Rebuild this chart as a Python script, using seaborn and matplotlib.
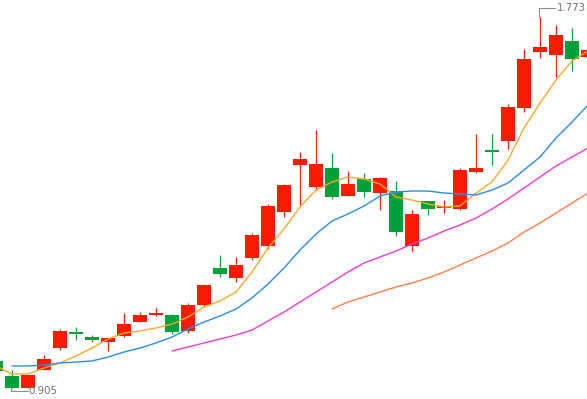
import numpy as np
import pandas as pd
import seaborn as sns
import matplotlib
matplotlib.use("Agg")
import matplotlib.pyplot as plt

# daily candles (chart is scrolled, first candle only half visible)
opens = [0.9682, 0.9331, 0.9060, 0.9471, 0.9986, 1.0360, 1.0243, 1.0126, 1.0267, 1.0594,
         1.0758, 1.0758, 1.0384, 1.0992, 1.1858, 1.1624, 1.2092, 1.2372, 1.3168, 1.4267,
         1.3753, 1.4197, 1.3542, 1.3940, 1.3612, 1.3659, 1.2372, 1.3425, 1.3261, 1.3238,
         1.4104, 1.4618, 1.4829, 1.5601, 1.6911, 1.6841, 1.7168, 1.6794]
highs = [0.9705, 0.9471, 0.9354, 0.9822, 1.0430, 1.0477, 1.0290, 1.0220, 1.0805, 1.0828,
         1.0922, 1.0781, 1.1039, 1.1483, 1.2162, 1.2115, 1.2676, 1.3355, 1.3823, 1.4572,
         1.5086, 1.4548, 1.4127, 1.4080, 1.3987, 1.3893, 1.3214, 1.3425, 1.3448, 1.4197,
         1.4993, 1.4993, 1.5695, 1.6981, 1.7730, 1.7543, 1.7473, 1.7005]
lows = [0.9424, 0.9050, 0.9060, 0.9471, 0.9939, 1.0173, 1.0126, 0.9916, 1.0243, 1.0594,
        1.0735, 1.0313, 1.0337, 1.0945, 1.1647, 1.1530, 1.2045, 1.2302, 1.3051, 1.3332,
        1.3682, 1.3472, 1.3542, 1.3519, 1.3214, 1.2606, 1.2255, 1.3098, 1.3144, 1.3214,
        1.4080, 1.4267, 1.4642, 1.5507, 1.6771, 1.6326, 1.6467, 1.6771]
closes = [0.9448, 0.9050, 0.9354, 0.9729, 1.0384, 1.0313, 1.0173, 1.0220, 1.0547, 1.0758,
          1.0805, 1.0360, 1.0992, 1.1460, 1.1717, 1.1928, 1.2630, 1.3308, 1.3799, 1.4408,
          1.4291, 1.3519, 1.3823, 1.3636, 1.3963, 1.2700, 1.3121, 1.3238, 1.3308, 1.4150,
          1.4197, 1.4572, 1.5624, 1.6747, 1.7028, 1.7309, 1.6747, 1.6958]

# moving averages as shown (they use days left of the visible window)
ma5 = [0.9565, 0.9378, 0.9378, 0.9518, 0.9635, 0.9799, 0.9986, 1.0196, 1.0337, 1.0384,
       1.0454, 1.0547, 1.0711, 1.0945, 1.1086, 1.1296, 1.1764, 1.2326, 1.2770, 1.3285,
       1.3682, 1.3870, 1.3987, 1.3940, 1.3823, 1.3519, 1.3448, 1.3355, 1.3285, 1.3308,
       1.3612, 1.3870, 1.4384, 1.5133, 1.5718, 1.6256, 1.6701, 1.6935]
ma10 = [np.nan, 0.9565, 0.9565, 0.9588, 0.9635, 0.9658, 0.9682, 0.9775, 0.9892, 0.9986,
        1.0103, 1.0243, 1.0430, 1.0594, 1.0735, 1.0898, 1.1156, 1.1483, 1.1858, 1.2279,
        1.2653, 1.2957, 1.3121, 1.3308, 1.3542, 1.3636, 1.3659, 1.3659, 1.3612, 1.3589,
        1.3566, 1.3682, 1.3846, 1.4150, 1.4455, 1.4899, 1.5273, 1.5671]
ma20 = [np.nan] * 11 + [0.9916, 1.0009, 1.0103, 1.0196, 1.0290, 1.0407, 1.0618, 1.0828, 1.1062,
                        1.1296, 1.1530, 1.1764, 1.1975, 1.2115, 1.2255, 1.2419, 1.2559, 1.2723,
                        1.2864, 1.3027, 1.3238, 1.3472, 1.3729, 1.3987, 1.4244, 1.4455, 1.4665]
ma30 = [np.nan] * 21 + [1.0898, 1.1062, 1.1179, 1.1296, 1.1413, 1.1507, 1.1624, 1.1764, 1.1928,
                        1.2092, 1.2255, 1.2442, 1.2700, 1.2910, 1.3144, 1.3378, 1.3612]

UP = "#F91B00"
DOWN = "#00A03A"
ma_colors = {"MA5": "#F7A928", "MA10": "#2A8CEB", "MA20": "#F43BCB", "MA30": "#FF7F45"}


def main():
    sns.set_style("white")
    plt.rcParams['font.family'] = ['DejaVu Sans']

    fig = plt.figure(figsize=(5.87, 3.99), dpi=100)
    ax = fig.add_axes([0, 0, 1, 1])

    n = len(opens)
    x = np.arange(n)
    o = np.array(opens)
    c = np.array(closes)
    colors = [UP if cc >= oo else DOWN for oo, cc in zip(o, c)]

    # wicks then bodies
    ax.vlines(x, lows, highs, colors=colors, linewidth=0.9, zorder=2)
    body = np.where(np.abs(c - o) < 0.0015, 0.0015 * np.sign(c - o + 1e-9), c - o)
    ax.bar(x, body, bottom=o, width=0.875, color=colors, linewidth=0, zorder=3)

    # moving averages
    df = pd.DataFrame({"x": x, "MA5": ma5, "MA10": ma10, "MA20": ma20, "MA30": ma30})
    long = df.melt(id_vars="x", var_name="ma", value_name="v").dropna()
    sns.lineplot(data=long, x="x", y="v", hue="ma", palette=ma_colors,
                 estimator=None, sort=False, linewidth=1.0, legend=False, ax=ax, zorder=4)

    # view window in data units
    ax.set_xlim(0.25, 36.9375)
    ax.set_ylim(0.87927, 1.81277)
    ax.set_axis_off()

    # pixel sizes in data units
    px = 1 / 16
    py = (1.81277 - 0.87927) / 399

    # max / min markers
    gray = "#8a8a8a"
    hi_i = int(np.argmax(highs))
    hi = highs[hi_i]
    ax.plot([hi_i - px * 1.5, hi_i - px * 1.5, hi_i + 15 * px], [hi, hi + 9 * py, hi + 9 * py],
            color=gray, lw=0.8, zorder=5)
    ax.text(hi_i + 16.5 * px, hi + 9 * py, f"{hi:.3f}", ha="left", va="center",
            fontsize=7.3, color="#707070", zorder=6)

    lo_i = int(np.argmin(lows))
    lo = lows[lo_i]
    ax.plot([lo_i - px, lo_i - px, lo_i + 16 * px], [lo, lo - 3 * py, lo - 3 * py],
            color=gray, lw=0.8, zorder=5)
    ax.text(lo_i + 16.5 * px, lo - 3 * py, f"{lo:.3f}", ha="left", va="center",
            fontsize=7.3, color="#707070", zorder=6)

    fig.savefig("out.png", dpi=100)


if __name__ == "__main__":
    main()
